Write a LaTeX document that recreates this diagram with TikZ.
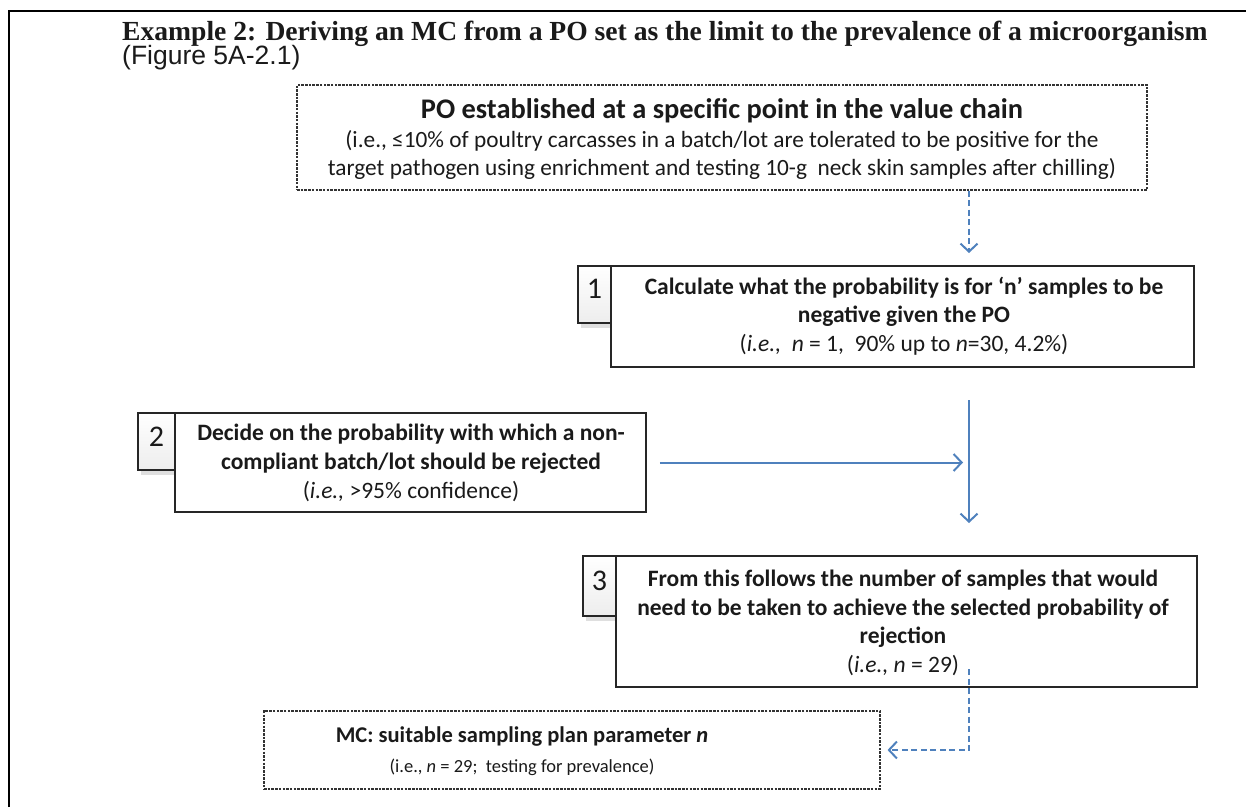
\documentclass[tikz,border=0pt]{standalone}
\usepackage{fontspec}
\setmainfont{Carlito}
\newfontfamily\titlefont{Liberation Serif}
\newfontfamily\figfont{Liberation Sans}
\usetikzlibrary{arrows.meta,shadows,calc}
\definecolor{arrowblue}{HTML}{4F81BD}
\definecolor{txt}{HTML}{1A1A1A}
\tikzset{
  frameline/.style={line width=2.2pt,black},
  dashbox/.style={draw=black!80,dash pattern=on 2.5pt off 1.2pt,line width=1.1pt,fill=white,inner sep=0pt},
  mainbox/.style={draw=black!85,line width=1.6pt,fill=white,inner sep=0pt,align=center,text=txt},
  tabbox/.style={draw=black!85,line width=1.6pt,top color=white,bottom color=black!7,inner sep=0pt,
     drop shadow={opacity=0.25,shadow xshift=3pt,shadow yshift=-5pt},text=txt},
  tabnum/.style={inner sep=0pt,text=txt,font=\fontsize{30}{30}\selectfont},
  boxtext/.style={align=center,text=txt,inner sep=0pt,font=\fontsize{23.5}{28.7}\selectfont},
  bluearrow/.style={draw=arrowblue,line width=2pt,-{Straight Barb[length=8pt,width=17pt]}},
  bluedash/.style={bluearrow,dash pattern=on 6pt off 3.5pt},
}
\begin{document}
\begin{tikzpicture}[x=1pt,y=-1pt]
\useasboundingbox (0,0) rectangle (1246,807);
\draw[frameline] (9,807) -- (9,11) -- (1246,11);
% title
\node[anchor=base west,inner sep=0pt,text=txt,font=\titlefont\bfseries\fontsize{27.6}{27.6}\selectfont] (title) at (122,40)
  {Example 2: Deriving an MC from a PO set as the limit to the prevalence of a microorganism};
\node[anchor=base west,inner sep=0pt,text=txt,font=\figfont\fontsize{26.5}{26.5}\selectfont] (fig) at (122,64.5)
  {(Figure 5A-2.1)};
% PO box
\node[dashbox,minimum width=850,minimum height=105] (po) at (722,137.5) {};
\node[boxtext,font=\fontsize{23.3}{28.5}\selectfont] (potext) at (722,139.5)
  {{\bfseries\fontsize{28.4}{28.5}\selectfont PO established at a specific point in the value chain}\\
   (i.e., ≤10\% of poultry carcasses in a batch/lot are tolerated to be positive for the\\
   target pathogen using enrichment and testing 10-g\ \ neck skin samples after chilling)};
% box 1
\node[tabbox,minimum width=33,minimum height=57] (t1) at (594.5,294.5) {};
\node[tabnum] (n1) at (594.5,289) {1};
\node[mainbox,minimum width=583,minimum height=101] (b1) at (902.5,316.5) {};
\node[boxtext] (b1text) at (904,316)
  {\bfseries Calculate what the probability is for ‘n’ samples to be\\
   \bfseries negative given the PO\\
   (\textit{i.e.,}\ \ \textit{n} = 1,\ \ 90\% up to \textit{n}=30, 4.2\%)};
% box 2
\node[tabbox,minimum width=37,minimum height=57] (t2) at (156.5,441.5) {};
\node[tabnum] (n2) at (156.5,436.5) {2};
\node[mainbox,minimum width=471,minimum height=99] (b2) at (410.5,462.5) {};
\node[boxtext] (b2text) at (411,463)
  {\bfseries Decide on the probability with which a non-\\
   \bfseries compliant batch/lot should be rejected\\
   (\textit{i.e.,} >95\% confidence)};
% box 3
\node[tabbox,minimum width=33,minimum height=60] (t3) at (599.5,586) {};
\node[tabnum] (n3) at (599.5,581) {3};
\node[mainbox,minimum width=581,minimum height=131] (b3) at (906.5,621.5) {};
\node[boxtext] (b3text) at (903,623)
  {\bfseries From this follows the number of samples that would\\
   \bfseries need to be taken to achieve the selected probability of\\
   \bfseries rejection\\
   (\textit{i.e.,} \textit{n} = 29)};
% MC box
\node[dashbox,minimum width=616,minimum height=78] (mc) at (572,750) {};
\node[boxtext,font=\fontsize{18.5}{30}\selectfont] (mctext) at (522,751)
  {{\bfseries\fontsize{22.5}{30}\selectfont MC: suitable sampling plan parameter \textit{n}}\\
   (i.e., \textit{n} = 29;\ \ testing for prevalence)};
% connectors
\coordinate (a1end) at (969,253);
\coordinate (vtop) at (969,400);
\coordinate (vbot) at (969,523);
\coordinate (dstart) at (969,669);
\coordinate (dcorner) at (969,750);
\draw[bluedash] (po.south -| a1end) -- (a1end);
\draw[bluearrow] (vtop) -- (vbot);
\draw[bluearrow] ([xshift=13pt]b2.east) -- ([xshift=-6pt]b2.east -| vtop);
\draw[bluedash] (dstart) -- (dcorner) -- ([xshift=7pt]mc.east);
\end{tikzpicture}
\end{document}
